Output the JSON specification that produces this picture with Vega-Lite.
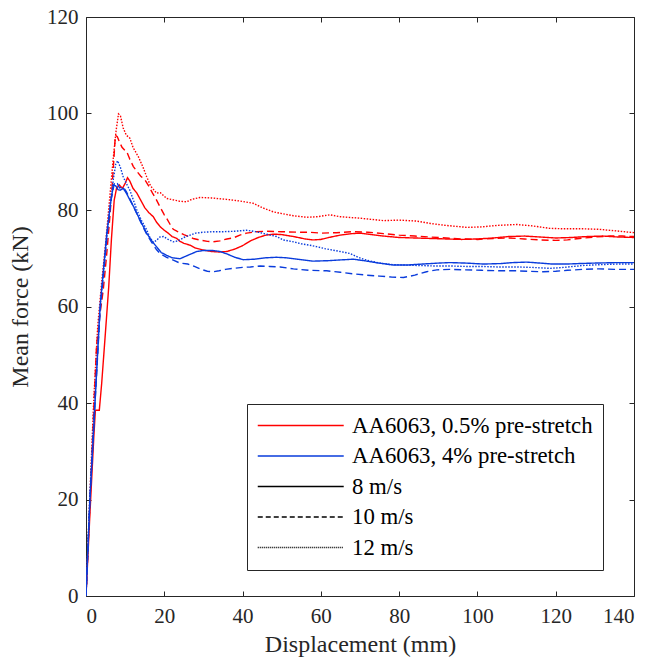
{
"$schema":"https://vega.github.io/schema/vega-lite/v6.json",
"width":548,"height":579,
"autosize":{"type":"none"},
"padding":{"left":86,"top":17,"right":17,"bottom":70},
"background":"white",
"config":{"font":"Liberation Serif","view":{"stroke":null},
"axis":{"grid":false,"domainColor":"#262626","tickColor":"#262626","labelColor":"#262626","titleColor":"#262626","labelFont":"Liberation Serif","titleFont":"Liberation Serif","labelFontSize":21,"titleFontSize":24,"titleFontWeight":"normal","tickSize":-5,"domainWidth":1,"tickWidth":1}},
"datasets":{
"curves":[
{"m":"0.5%","s":"8 m/s","x":0,"y":0},{"m":"0.5%","s":"8 m/s","x":1,"y":17},{"m":"0.5%","s":"8 m/s","x":2,"y":33},{"m":"0.5%","s":"8 m/s","x":2.4,"y":38.5},{"m":"0.5%","s":"8 m/s","x":3.4,"y":38.5},{"m":"0.5%","s":"8 m/s","x":4,"y":44},{"m":"0.5%","s":"8 m/s","x":5,"y":55},{"m":"0.5%","s":"8 m/s","x":5.8,"y":64},{"m":"0.5%","s":"8 m/s","x":6.5,"y":74},{"m":"0.5%","s":"8 m/s","x":7.2,"y":82},{"m":"0.5%","s":"8 m/s","x":7.8,"y":84.5},{"m":"0.5%","s":"8 m/s","x":8.5,"y":85.2},{"m":"0.5%","s":"8 m/s","x":9.3,"y":84.5},{"m":"0.5%","s":"8 m/s","x":10,"y":85.5},{"m":"0.5%","s":"8 m/s","x":10.6,"y":86.7},{"m":"0.5%","s":"8 m/s","x":11.2,"y":86},{"m":"0.5%","s":"8 m/s","x":12,"y":84.5},{"m":"0.5%","s":"8 m/s","x":13,"y":83.5},{"m":"0.5%","s":"8 m/s","x":14,"y":82},{"m":"0.5%","s":"8 m/s","x":15,"y":80.5},{"m":"0.5%","s":"8 m/s","x":16,"y":79.5},{"m":"0.5%","s":"8 m/s","x":17.2,"y":78.6},{"m":"0.5%","s":"8 m/s","x":18,"y":77.5},{"m":"0.5%","s":"8 m/s","x":19,"y":76.5},{"m":"0.5%","s":"8 m/s","x":20,"y":75.8},{"m":"0.5%","s":"8 m/s","x":21,"y":75.2},{"m":"0.5%","s":"8 m/s","x":22,"y":74.5},{"m":"0.5%","s":"8 m/s","x":23.2,"y":74.1},{"m":"0.5%","s":"8 m/s","x":24,"y":73.5},{"m":"0.5%","s":"8 m/s","x":25,"y":73.1},{"m":"0.5%","s":"8 m/s","x":26.6,"y":72.7},{"m":"0.5%","s":"8 m/s","x":28,"y":72.1},{"m":"0.5%","s":"8 m/s","x":30,"y":71.7},{"m":"0.5%","s":"8 m/s","x":32,"y":71.4},{"m":"0.5%","s":"8 m/s","x":34,"y":71.3},{"m":"0.5%","s":"8 m/s","x":36,"y":71.4},{"m":"0.5%","s":"8 m/s","x":38,"y":71.9},{"m":"0.5%","s":"8 m/s","x":40,"y":72.6},{"m":"0.5%","s":"8 m/s","x":42,"y":73.6},{"m":"0.5%","s":"8 m/s","x":44,"y":74.3},{"m":"0.5%","s":"8 m/s","x":46,"y":74.8},{"m":"0.5%","s":"8 m/s","x":48,"y":75},{"m":"0.5%","s":"8 m/s","x":50,"y":74.9},{"m":"0.5%","s":"8 m/s","x":53,"y":74.5},{"m":"0.5%","s":"8 m/s","x":56,"y":74},{"m":"0.5%","s":"8 m/s","x":58,"y":73.8},{"m":"0.5%","s":"8 m/s","x":60,"y":73.9},{"m":"0.5%","s":"8 m/s","x":62,"y":74.3},{"m":"0.5%","s":"8 m/s","x":65,"y":74.8},{"m":"0.5%","s":"8 m/s","x":68,"y":75.1},{"m":"0.5%","s":"8 m/s","x":70,"y":75.2},{"m":"0.5%","s":"8 m/s","x":73,"y":74.9},{"m":"0.5%","s":"8 m/s","x":76,"y":74.6},{"m":"0.5%","s":"8 m/s","x":80,"y":74.3},{"m":"0.5%","s":"8 m/s","x":84,"y":74.2},{"m":"0.5%","s":"8 m/s","x":88,"y":74.1},{"m":"0.5%","s":"8 m/s","x":92,"y":74},{"m":"0.5%","s":"8 m/s","x":96,"y":73.9},{"m":"0.5%","s":"8 m/s","x":100,"y":74},{"m":"0.5%","s":"8 m/s","x":104,"y":74.2},{"m":"0.5%","s":"8 m/s","x":108,"y":74.5},{"m":"0.5%","s":"8 m/s","x":112,"y":74.6},{"m":"0.5%","s":"8 m/s","x":116,"y":74.4},{"m":"0.5%","s":"8 m/s","x":120,"y":74.2},{"m":"0.5%","s":"8 m/s","x":124,"y":74.3},{"m":"0.5%","s":"8 m/s","x":128,"y":74.5},{"m":"0.5%","s":"8 m/s","x":132,"y":74.6},{"m":"0.5%","s":"8 m/s","x":136,"y":74.4},{"m":"0.5%","s":"8 m/s","x":140,"y":74.3},
{"m":"0.5%","s":"10 m/s","x":0,"y":0},{"m":"0.5%","s":"10 m/s","x":1,"y":19},{"m":"0.5%","s":"10 m/s","x":2,"y":39},{"m":"0.5%","s":"10 m/s","x":2.7,"y":52},{"m":"0.5%","s":"10 m/s","x":3.5,"y":58},{"m":"0.5%","s":"10 m/s","x":4.4,"y":63.4},{"m":"0.5%","s":"10 m/s","x":5.2,"y":70},{"m":"0.5%","s":"10 m/s","x":6.1,"y":78.6},{"m":"0.5%","s":"10 m/s","x":6.6,"y":84},{"m":"0.5%","s":"10 m/s","x":7,"y":89},{"m":"0.5%","s":"10 m/s","x":7.5,"y":95.5},{"m":"0.5%","s":"10 m/s","x":8,"y":95.2},{"m":"0.5%","s":"10 m/s","x":8.5,"y":94.2},{"m":"0.5%","s":"10 m/s","x":9.2,"y":93},{"m":"0.5%","s":"10 m/s","x":10,"y":92.3},{"m":"0.5%","s":"10 m/s","x":10.4,"y":92.1},{"m":"0.5%","s":"10 m/s","x":11.2,"y":90.5},{"m":"0.5%","s":"10 m/s","x":12.1,"y":89},{"m":"0.5%","s":"10 m/s","x":13,"y":88},{"m":"0.5%","s":"10 m/s","x":14,"y":87},{"m":"0.5%","s":"10 m/s","x":15.1,"y":86.2},{"m":"0.5%","s":"10 m/s","x":16,"y":85},{"m":"0.5%","s":"10 m/s","x":17,"y":83.5},{"m":"0.5%","s":"10 m/s","x":18,"y":82.1},{"m":"0.5%","s":"10 m/s","x":19,"y":80.5},{"m":"0.5%","s":"10 m/s","x":20,"y":79},{"m":"0.5%","s":"10 m/s","x":20.6,"y":78.3},{"m":"0.5%","s":"10 m/s","x":21.5,"y":77},{"m":"0.5%","s":"10 m/s","x":22.3,"y":76},{"m":"0.5%","s":"10 m/s","x":23.2,"y":75.6},{"m":"0.5%","s":"10 m/s","x":25,"y":74.9},{"m":"0.5%","s":"10 m/s","x":27.4,"y":74.1},{"m":"0.5%","s":"10 m/s","x":29,"y":73.8},{"m":"0.5%","s":"10 m/s","x":31,"y":73.5},{"m":"0.5%","s":"10 m/s","x":32.5,"y":73.4},{"m":"0.5%","s":"10 m/s","x":34.2,"y":73.6},{"m":"0.5%","s":"10 m/s","x":36,"y":74},{"m":"0.5%","s":"10 m/s","x":37.6,"y":74.2},{"m":"0.5%","s":"10 m/s","x":39.3,"y":74.8},{"m":"0.5%","s":"10 m/s","x":41,"y":75.2},{"m":"0.5%","s":"10 m/s","x":43.6,"y":75.5},{"m":"0.5%","s":"10 m/s","x":46,"y":75.6},{"m":"0.5%","s":"10 m/s","x":50,"y":75.5},{"m":"0.5%","s":"10 m/s","x":54,"y":75.4},{"m":"0.5%","s":"10 m/s","x":57,"y":75.4},{"m":"0.5%","s":"10 m/s","x":60,"y":75.2},{"m":"0.5%","s":"10 m/s","x":64,"y":75.3},{"m":"0.5%","s":"10 m/s","x":68,"y":75.5},{"m":"0.5%","s":"10 m/s","x":72,"y":75.4},{"m":"0.5%","s":"10 m/s","x":76,"y":75.1},{"m":"0.5%","s":"10 m/s","x":80,"y":74.8},{"m":"0.5%","s":"10 m/s","x":84,"y":74.6},{"m":"0.5%","s":"10 m/s","x":88,"y":74.4},{"m":"0.5%","s":"10 m/s","x":92,"y":74.2},{"m":"0.5%","s":"10 m/s","x":96,"y":74},{"m":"0.5%","s":"10 m/s","x":100,"y":73.9},{"m":"0.5%","s":"10 m/s","x":104,"y":74.1},{"m":"0.5%","s":"10 m/s","x":108,"y":74.2},{"m":"0.5%","s":"10 m/s","x":112,"y":74},{"m":"0.5%","s":"10 m/s","x":116,"y":73.8},{"m":"0.5%","s":"10 m/s","x":120,"y":73.7},{"m":"0.5%","s":"10 m/s","x":123,"y":73.8},{"m":"0.5%","s":"10 m/s","x":126,"y":74.1},{"m":"0.5%","s":"10 m/s","x":130,"y":74.4},{"m":"0.5%","s":"10 m/s","x":134,"y":74.6},{"m":"0.5%","s":"10 m/s","x":137,"y":74.6},{"m":"0.5%","s":"10 m/s","x":140,"y":74.5},
{"m":"0.5%","s":"12 m/s","x":0,"y":0},{"m":"0.5%","s":"12 m/s","x":1,"y":21},{"m":"0.5%","s":"12 m/s","x":2,"y":41},{"m":"0.5%","s":"12 m/s","x":3,"y":56},{"m":"0.5%","s":"12 m/s","x":4,"y":65},{"m":"0.5%","s":"12 m/s","x":5,"y":73},{"m":"0.5%","s":"12 m/s","x":6,"y":82},{"m":"0.5%","s":"12 m/s","x":7,"y":91},{"m":"0.5%","s":"12 m/s","x":7.7,"y":96.5},{"m":"0.5%","s":"12 m/s","x":8.3,"y":99.9},{"m":"0.5%","s":"12 m/s","x":8.8,"y":99.5},{"m":"0.5%","s":"12 m/s","x":9.5,"y":97},{"m":"0.5%","s":"12 m/s","x":10.3,"y":95.5},{"m":"0.5%","s":"12 m/s","x":11.2,"y":94.9},{"m":"0.5%","s":"12 m/s","x":12,"y":93},{"m":"0.5%","s":"12 m/s","x":13.4,"y":91},{"m":"0.5%","s":"12 m/s","x":14.5,"y":89},{"m":"0.5%","s":"12 m/s","x":15.5,"y":86.9},{"m":"0.5%","s":"12 m/s","x":16.5,"y":85},{"m":"0.5%","s":"12 m/s","x":18,"y":83.5},{"m":"0.5%","s":"12 m/s","x":19,"y":83.6},{"m":"0.5%","s":"12 m/s","x":20.6,"y":82.4},{"m":"0.5%","s":"12 m/s","x":22.3,"y":82.1},{"m":"0.5%","s":"12 m/s","x":24,"y":81.8},{"m":"0.5%","s":"12 m/s","x":25.7,"y":81.7},{"m":"0.5%","s":"12 m/s","x":27,"y":82.2},{"m":"0.5%","s":"12 m/s","x":29.1,"y":82.6},{"m":"0.5%","s":"12 m/s","x":32,"y":82.5},{"m":"0.5%","s":"12 m/s","x":35.9,"y":82.2},{"m":"0.5%","s":"12 m/s","x":39,"y":81.9},{"m":"0.5%","s":"12 m/s","x":42.7,"y":81.4},{"m":"0.5%","s":"12 m/s","x":45,"y":80.5},{"m":"0.5%","s":"12 m/s","x":47.9,"y":79.6},{"m":"0.5%","s":"12 m/s","x":50.4,"y":79.2},{"m":"0.5%","s":"12 m/s","x":53,"y":78.8},{"m":"0.5%","s":"12 m/s","x":56.4,"y":78.5},{"m":"0.5%","s":"12 m/s","x":59,"y":78.6},{"m":"0.5%","s":"12 m/s","x":62.3,"y":79},{"m":"0.5%","s":"12 m/s","x":65,"y":78.6},{"m":"0.5%","s":"12 m/s","x":70,"y":78.3},{"m":"0.5%","s":"12 m/s","x":76,"y":77.8},{"m":"0.5%","s":"12 m/s","x":80,"y":77.9},{"m":"0.5%","s":"12 m/s","x":84.5,"y":77.7},{"m":"0.5%","s":"12 m/s","x":88,"y":77.2},{"m":"0.5%","s":"12 m/s","x":92,"y":76.8},{"m":"0.5%","s":"12 m/s","x":97.3,"y":76.4},{"m":"0.5%","s":"12 m/s","x":101,"y":76.5},{"m":"0.5%","s":"12 m/s","x":105,"y":76.8},{"m":"0.5%","s":"12 m/s","x":110,"y":77},{"m":"0.5%","s":"12 m/s","x":114,"y":76.7},{"m":"0.5%","s":"12 m/s","x":118.5,"y":76.2},{"m":"0.5%","s":"12 m/s","x":122,"y":76.1},{"m":"0.5%","s":"12 m/s","x":127,"y":76.1},{"m":"0.5%","s":"12 m/s","x":131,"y":76},{"m":"0.5%","s":"12 m/s","x":135,"y":75.7},{"m":"0.5%","s":"12 m/s","x":140,"y":75.3},
{"m":"4%","s":"8 m/s","x":0,"y":0},{"m":"4%","s":"8 m/s","x":1,"y":20},{"m":"4%","s":"8 m/s","x":2.3,"y":40},{"m":"4%","s":"8 m/s","x":3.6,"y":60},{"m":"4%","s":"8 m/s","x":4.5,"y":68},{"m":"4%","s":"8 m/s","x":5.3,"y":75},{"m":"4%","s":"8 m/s","x":6.2,"y":81},{"m":"4%","s":"8 m/s","x":7,"y":85.2},{"m":"4%","s":"8 m/s","x":7.6,"y":85},{"m":"4%","s":"8 m/s","x":8.2,"y":84.2},{"m":"4%","s":"8 m/s","x":8.7,"y":84.1},{"m":"4%","s":"8 m/s","x":9.5,"y":84.5},{"m":"4%","s":"8 m/s","x":10.3,"y":83.5},{"m":"4%","s":"8 m/s","x":11.2,"y":82.1},{"m":"4%","s":"8 m/s","x":12.3,"y":80.5},{"m":"4%","s":"8 m/s","x":13.4,"y":78.6},{"m":"4%","s":"8 m/s","x":14.5,"y":76.8},{"m":"4%","s":"8 m/s","x":15.5,"y":75.2},{"m":"4%","s":"8 m/s","x":16.7,"y":73.7},{"m":"4%","s":"8 m/s","x":18,"y":72.4},{"m":"4%","s":"8 m/s","x":19.2,"y":71.2},{"m":"4%","s":"8 m/s","x":20.6,"y":70.6},{"m":"4%","s":"8 m/s","x":22,"y":70.1},{"m":"4%","s":"8 m/s","x":24,"y":69.9},{"m":"4%","s":"8 m/s","x":26,"y":70.6},{"m":"4%","s":"8 m/s","x":28.3,"y":71.4},{"m":"4%","s":"8 m/s","x":30,"y":71.6},{"m":"4%","s":"8 m/s","x":32.5,"y":71.6},{"m":"4%","s":"8 m/s","x":34.2,"y":71.4},{"m":"4%","s":"8 m/s","x":36,"y":70.9},{"m":"4%","s":"8 m/s","x":38,"y":70.2},{"m":"4%","s":"8 m/s","x":40.2,"y":69.7},{"m":"4%","s":"8 m/s","x":43,"y":69.8},{"m":"4%","s":"8 m/s","x":46,"y":70.1},{"m":"4%","s":"8 m/s","x":48.7,"y":70.2},{"m":"4%","s":"8 m/s","x":51,"y":70.1},{"m":"4%","s":"8 m/s","x":54,"y":69.8},{"m":"4%","s":"8 m/s","x":58,"y":69.4},{"m":"4%","s":"8 m/s","x":62,"y":69.5},{"m":"4%","s":"8 m/s","x":66,"y":69.7},{"m":"4%","s":"8 m/s","x":68.3,"y":69.8},{"m":"4%","s":"8 m/s","x":71,"y":69.5},{"m":"4%","s":"8 m/s","x":74,"y":69.1},{"m":"4%","s":"8 m/s","x":78.5,"y":68.6},{"m":"4%","s":"8 m/s","x":82,"y":68.6},{"m":"4%","s":"8 m/s","x":86,"y":68.8},{"m":"4%","s":"8 m/s","x":90,"y":69},{"m":"4%","s":"8 m/s","x":93,"y":69.1},{"m":"4%","s":"8 m/s","x":97,"y":69},{"m":"4%","s":"8 m/s","x":101.6,"y":68.8},{"m":"4%","s":"8 m/s","x":106,"y":68.9},{"m":"4%","s":"8 m/s","x":109,"y":69.1},{"m":"4%","s":"8 m/s","x":112.6,"y":69.2},{"m":"4%","s":"8 m/s","x":116,"y":69},{"m":"4%","s":"8 m/s","x":119,"y":68.8},{"m":"4%","s":"8 m/s","x":122.8,"y":68.8},{"m":"4%","s":"8 m/s","x":126,"y":68.9},{"m":"4%","s":"8 m/s","x":130,"y":69},{"m":"4%","s":"8 m/s","x":135.6,"y":69.1},{"m":"4%","s":"8 m/s","x":140,"y":69.1},
{"m":"4%","s":"10 m/s","x":0,"y":0},{"m":"4%","s":"10 m/s","x":1,"y":20},{"m":"4%","s":"10 m/s","x":2.3,"y":40},{"m":"4%","s":"10 m/s","x":3.6,"y":59},{"m":"4%","s":"10 m/s","x":4.6,"y":68},{"m":"4%","s":"10 m/s","x":5.5,"y":76},{"m":"4%","s":"10 m/s","x":6.5,"y":82.5},{"m":"4%","s":"10 m/s","x":7.3,"y":85.8},{"m":"4%","s":"10 m/s","x":8,"y":85.5},{"m":"4%","s":"10 m/s","x":8.6,"y":84.6},{"m":"4%","s":"10 m/s","x":9.5,"y":84.8},{"m":"4%","s":"10 m/s","x":10.3,"y":83.8},{"m":"4%","s":"10 m/s","x":11.2,"y":82.3},{"m":"4%","s":"10 m/s","x":12.3,"y":80.4},{"m":"4%","s":"10 m/s","x":13.4,"y":78.5},{"m":"4%","s":"10 m/s","x":14.5,"y":76.6},{"m":"4%","s":"10 m/s","x":15.5,"y":75},{"m":"4%","s":"10 m/s","x":16.7,"y":73.4},{"m":"4%","s":"10 m/s","x":18,"y":71.8},{"m":"4%","s":"10 m/s","x":18.9,"y":71},{"m":"4%","s":"10 m/s","x":20.6,"y":70.2},{"m":"4%","s":"10 m/s","x":22.3,"y":69.6},{"m":"4%","s":"10 m/s","x":24,"y":69},{"m":"4%","s":"10 m/s","x":26,"y":68.8},{"m":"4%","s":"10 m/s","x":27.4,"y":68.4},{"m":"4%","s":"10 m/s","x":29.1,"y":67.8},{"m":"4%","s":"10 m/s","x":31,"y":67.3},{"m":"4%","s":"10 m/s","x":32.5,"y":67.2},{"m":"4%","s":"10 m/s","x":34,"y":67.4},{"m":"4%","s":"10 m/s","x":35.6,"y":67.7},{"m":"4%","s":"10 m/s","x":37.6,"y":67.9},{"m":"4%","s":"10 m/s","x":40,"y":68.1},{"m":"4%","s":"10 m/s","x":42,"y":68.2},{"m":"4%","s":"10 m/s","x":44.5,"y":68.4},{"m":"4%","s":"10 m/s","x":47,"y":68.3},{"m":"4%","s":"10 m/s","x":49.6,"y":68.2},{"m":"4%","s":"10 m/s","x":53,"y":67.8},{"m":"4%","s":"10 m/s","x":57,"y":67.5},{"m":"4%","s":"10 m/s","x":61.5,"y":67.4},{"m":"4%","s":"10 m/s","x":65,"y":67.1},{"m":"4%","s":"10 m/s","x":68,"y":66.8},{"m":"4%","s":"10 m/s","x":71.7,"y":66.5},{"m":"4%","s":"10 m/s","x":75,"y":66.3},{"m":"4%","s":"10 m/s","x":78,"y":66.1},{"m":"4%","s":"10 m/s","x":81.1,"y":66},{"m":"4%","s":"10 m/s","x":84,"y":66.5},{"m":"4%","s":"10 m/s","x":87,"y":67.2},{"m":"4%","s":"10 m/s","x":89.6,"y":67.6},{"m":"4%","s":"10 m/s","x":93,"y":67.7},{"m":"4%","s":"10 m/s","x":97,"y":67.6},{"m":"4%","s":"10 m/s","x":101,"y":67.5},{"m":"4%","s":"10 m/s","x":105.8,"y":67.4},{"m":"4%","s":"10 m/s","x":110,"y":67.4},{"m":"4%","s":"10 m/s","x":113,"y":67.3},{"m":"4%","s":"10 m/s","x":116.8,"y":67.2},{"m":"4%","s":"10 m/s","x":120,"y":67.3},{"m":"4%","s":"10 m/s","x":123,"y":67.5},{"m":"4%","s":"10 m/s","x":127,"y":67.7},{"m":"4%","s":"10 m/s","x":131,"y":67.8},{"m":"4%","s":"10 m/s","x":135,"y":67.7},{"m":"4%","s":"10 m/s","x":140,"y":67.7},
{"m":"4%","s":"12 m/s","x":0,"y":0},{"m":"4%","s":"12 m/s","x":1,"y":21},{"m":"4%","s":"12 m/s","x":2.3,"y":41},{"m":"4%","s":"12 m/s","x":3.6,"y":60},{"m":"4%","s":"12 m/s","x":4.5,"y":67},{"m":"4%","s":"12 m/s","x":5.3,"y":74},{"m":"4%","s":"12 m/s","x":6.2,"y":81},{"m":"4%","s":"12 m/s","x":7,"y":86.5},{"m":"4%","s":"12 m/s","x":7.6,"y":89.5},{"m":"4%","s":"12 m/s","x":8.1,"y":90.2},{"m":"4%","s":"12 m/s","x":8.8,"y":88.8},{"m":"4%","s":"12 m/s","x":9.5,"y":86.9},{"m":"4%","s":"12 m/s","x":10.3,"y":85.5},{"m":"4%","s":"12 m/s","x":11.2,"y":84.1},{"m":"4%","s":"12 m/s","x":12,"y":82.3},{"m":"4%","s":"12 m/s","x":13,"y":80},{"m":"4%","s":"12 m/s","x":14.2,"y":77.8},{"m":"4%","s":"12 m/s","x":15.5,"y":75.9},{"m":"4%","s":"12 m/s","x":16.3,"y":74.4},{"m":"4%","s":"12 m/s","x":17.2,"y":73.3},{"m":"4%","s":"12 m/s","x":18,"y":73.7},{"m":"4%","s":"12 m/s","x":18.9,"y":74.4},{"m":"4%","s":"12 m/s","x":19.8,"y":74.5},{"m":"4%","s":"12 m/s","x":21,"y":73.9},{"m":"4%","s":"12 m/s","x":22.3,"y":73.4},{"m":"4%","s":"12 m/s","x":23.5,"y":73.6},{"m":"4%","s":"12 m/s","x":25,"y":74.3},{"m":"4%","s":"12 m/s","x":26.6,"y":74.8},{"m":"4%","s":"12 m/s","x":28,"y":75.2},{"m":"4%","s":"12 m/s","x":30,"y":75.4},{"m":"4%","s":"12 m/s","x":32.5,"y":75.5},{"m":"4%","s":"12 m/s","x":35,"y":75.5},{"m":"4%","s":"12 m/s","x":38,"y":75.6},{"m":"4%","s":"12 m/s","x":41,"y":75.8},{"m":"4%","s":"12 m/s","x":42.7,"y":75.6},{"m":"4%","s":"12 m/s","x":44,"y":75.4},{"m":"4%","s":"12 m/s","x":46,"y":75},{"m":"4%","s":"12 m/s","x":48.7,"y":74.5},{"m":"4%","s":"12 m/s","x":50.4,"y":73.8},{"m":"4%","s":"12 m/s","x":53,"y":73.4},{"m":"4%","s":"12 m/s","x":55,"y":73},{"m":"4%","s":"12 m/s","x":57.2,"y":72.7},{"m":"4%","s":"12 m/s","x":58.9,"y":72.4},{"m":"4%","s":"12 m/s","x":61,"y":72},{"m":"4%","s":"12 m/s","x":64.9,"y":71.4},{"m":"4%","s":"12 m/s","x":67.4,"y":71},{"m":"4%","s":"12 m/s","x":69.5,"y":70.2},{"m":"4%","s":"12 m/s","x":71.7,"y":69.6},{"m":"4%","s":"12 m/s","x":75,"y":69},{"m":"4%","s":"12 m/s","x":77.7,"y":68.7},{"m":"4%","s":"12 m/s","x":81,"y":68.6},{"m":"4%","s":"12 m/s","x":85,"y":68.5},{"m":"4%","s":"12 m/s","x":89,"y":68.4},{"m":"4%","s":"12 m/s","x":93,"y":68.4},{"m":"4%","s":"12 m/s","x":97,"y":68.3},{"m":"4%","s":"12 m/s","x":101,"y":68.3},{"m":"4%","s":"12 m/s","x":105,"y":68.2},{"m":"4%","s":"12 m/s","x":110,"y":68.2},{"m":"4%","s":"12 m/s","x":114,"y":68.1},{"m":"4%","s":"12 m/s","x":118.5,"y":67.9},{"m":"4%","s":"12 m/s","x":122,"y":68.1},{"m":"4%","s":"12 m/s","x":127,"y":68.5},{"m":"4%","s":"12 m/s","x":132,"y":68.7},{"m":"4%","s":"12 m/s","x":136,"y":68.8},{"m":"4%","s":"12 m/s","x":140,"y":68.8}
],
"legendEntries":[{"entry":"AA6063, 0.5% pre-stretch"},{"entry":"AA6063, 4% pre-stretch"},{"entry":"8 m/s"},{"entry":"10 m/s"},{"entry":"12 m/s"}]
},
"layer":[
{"data":{"name":"curves"},
"mark":{"type":"line","strokeWidth":1.4,"clip":true},
"encoding":{
"x":{"field":"x","type":"quantitative","scale":{"domain":[0,140],"nice":false,"zero":false},"axis":{"orient":"bottom","values":[0,20,40,60,80,100,120,140],"title":"Displacement (mm)","labelPadding":14,"titlePadding":6}},
"y":{"field":"y","type":"quantitative","scale":{"domain":[0,120],"nice":false},"axis":{"orient":"left","values":[0,20,40,60,80,100,120],"title":"Mean force (kN)","labelPadding":13,"titlePadding":14}},
"color":{"field":"m","type":"nominal","scale":{"domain":["0.5%","4%"],"range":["#ff0000","#0a3cdc"]},"legend":null},
"strokeDash":{"field":"s","type":"nominal","scale":{"domain":["8 m/s","10 m/s","12 m/s"],"range":[[1,0],[7,4],[1.5,1.5]]},"legend":null},
"detail":{"field":"s"}
}},
{"data":{"name":"legendEntries"},
"transform":[{"filter":"false"}],
"mark":{"type":"line","strokeWidth":1.4},
"encoding":{
"x":{"field":"x","type":"quantitative","scale":{"domain":[0,140],"nice":false,"zero":false},"axis":{"orient":"top","values":[0,20,40,60,80,100,120,140],"labels":false,"title":null}},
"y":{"field":"y","type":"quantitative","scale":{"domain":[0,120],"nice":false},"axis":{"orient":"right","values":[0,20,40,60,80,100,120],"labels":false,"title":null}},
"color":{"field":"entry","type":"nominal","scale":{"domain":["AA6063, 0.5% pre-stretch","AA6063, 4% pre-stretch","8 m/s","10 m/s","12 m/s"],"range":["#ff0000","#0a3cdc","#000000","#000000","#000000"]},
"legend":{"title":null,"orient":"none","legendX":161,"legendY":387,"strokeColor":"#262626","fillColor":"white","padding":10,"symbolType":"M-1,0H7","symbolSize":462,"symbolStrokeWidth":1.4,"labelFontSize":22.8,"labelFont":"Liberation Serif","labelColor":"#000000","labelOffset":72,"rowPadding":6.5,"labelLimit":400}},
"strokeDash":{"field":"entry","type":"nominal","scale":{"domain":["AA6063, 0.5% pre-stretch","AA6063, 4% pre-stretch","8 m/s","10 m/s","12 m/s"],"range":[[1,0],[1,0],[1,0],[5,3],[1,1]]},
"legend":{"title":null,"orient":"none","legendX":161,"legendY":387,"strokeColor":"#262626","fillColor":"white","padding":10,"symbolType":"M-1,0H7","symbolSize":462,"symbolStrokeWidth":1.4,"labelFontSize":22.8,"labelFont":"Liberation Serif","labelColor":"#000000","labelOffset":72,"rowPadding":6.5,"labelLimit":400}}
}}
],
"resolve":{"scale":{"color":"independent","strokeDash":"independent"},"axis":{"x":"independent","y":"independent"}}
}
